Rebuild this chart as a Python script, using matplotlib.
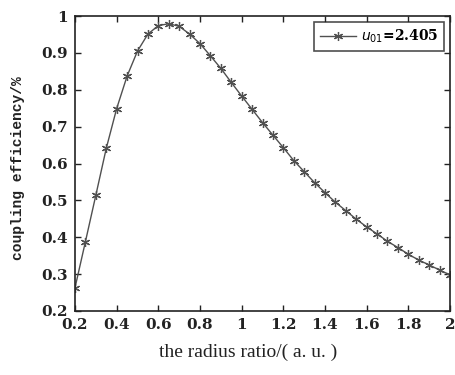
import matplotlib
matplotlib.use("Agg")
import matplotlib.pyplot as plt
import numpy as np

ratio = [0.20, 0.25, 0.30, 0.35, 0.40, 0.45, 0.50, 0.55, 0.60, 0.65, 0.70, 0.75,
         0.80, 0.85, 0.90, 0.95, 1.00, 1.05, 1.10, 1.15, 1.20, 1.25, 1.30, 1.35,
         1.40, 1.45, 1.50, 1.55, 1.60, 1.65, 1.70, 1.75, 1.80, 1.85, 1.90, 1.95, 2.00]
efficiency = [0.263, 0.388, 0.514, 0.641, 0.749, 0.837, 0.905, 0.951, 0.974, 0.979,
              0.972, 0.951, 0.925, 0.892, 0.858, 0.820, 0.783, 0.747, 0.711, 0.677,
              0.643, 0.608, 0.578, 0.548, 0.521, 0.495, 0.472, 0.449, 0.428, 0.409,
              0.389, 0.372, 0.354, 0.338, 0.325, 0.311, 0.298]
xticks = [0.2, 0.4, 0.6, 0.8, 1, 1.2, 1.4, 1.6, 1.8, 2]
xticklabels = ["0.2", "0.4", "0.6", "0.8", "1", "1.2", "1.4", "1.6", "1.8", "2"]
yticks = [0.2, 0.3, 0.4, 0.5, 0.6, 0.7, 0.8, 0.9, 1]
yticklabels = ["0.2", "0.3", "0.4", "0.5", "0.6", "0.7", "0.8", "0.9", "1"]
legend_label = r"$u_{01}$=2.405"

fig = plt.figure(figsize=(4.56, 3.75), dpi=100)
ax = fig.add_axes([75/456, 1-311/375, 375/456, 295/375])

ax.plot(ratio, efficiency, color="#505050", lw=1.0, marker=(6, 2, 0),
        markersize=6.5, markeredgewidth=0.9, label=legend_label)

ax.set_xlim(0.2, 2)
ax.set_ylim(0.2, 1)
ax.set_xticks(xticks)
ax.set_xticklabels(xticklabels)
ax.set_yticks(yticks)
ax.set_yticklabels(yticklabels)
ax.tick_params(direction="in", top=True, right=True, length=4, width=1.0, pad=5,
               colors="#222222")
for lab in ax.get_xticklabels() + ax.get_yticklabels():
    lab.set_family("DejaVu Serif")
    lab.set_fontweight("bold")
    lab.set_fontsize(11)
for s in ax.spines.values():
    s.set_linewidth(1.2)
    s.set_color("#222222")

fig.text(18/456, 1-168/375, "coupling efficiency/%", rotation=90, ha="center", va="center",
         family="Liberation Mono", fontweight="bold", fontsize=10.5, color="#222222")
fig.text(248/456, 1-352/375, "the radius ratio/( a. u. )", ha="center", va="center",
         family="Liberation Serif", fontsize=14, color="#222222")

mpl_leg = ax.legend(loc="upper right", frameon=True, fancybox=False, edgecolor="#222222",
                    prop={"family": "DejaVu Serif", "weight": "bold", "size": 10},
                    handlelength=2.6, borderaxespad=0.4, borderpad=0.45, handletextpad=0.3)
mpl_leg.get_frame().set_linewidth(1.2)

fig.savefig("out.png", dpi=100)
